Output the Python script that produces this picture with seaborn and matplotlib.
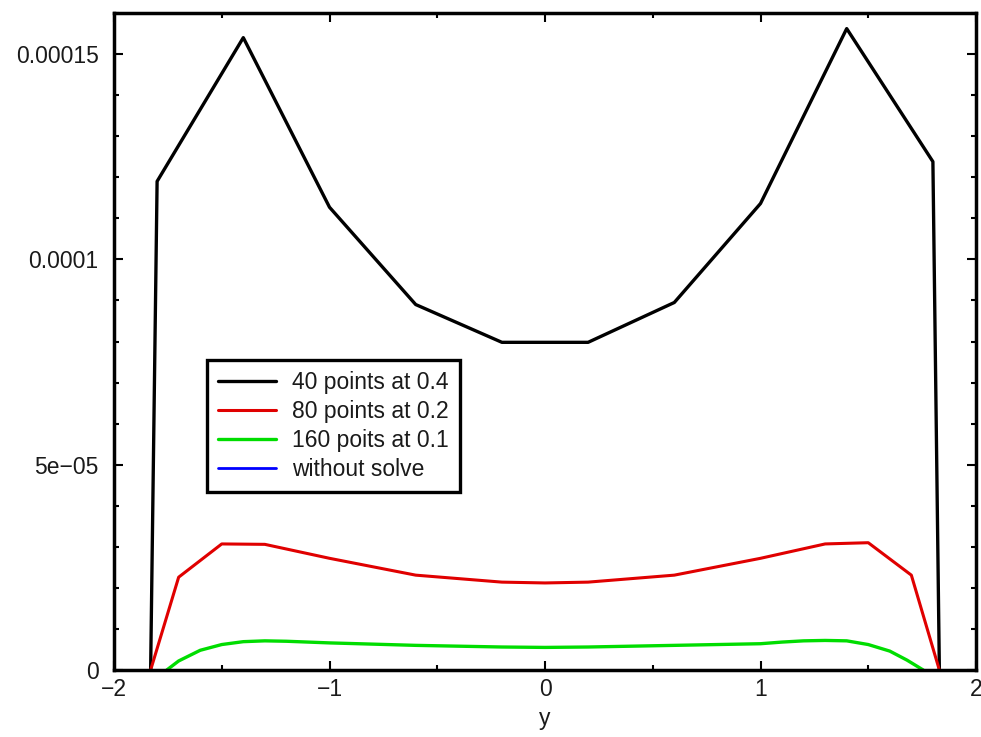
import matplotlib
matplotlib.use("Agg")
import matplotlib.pyplot as plt
from matplotlib.ticker import MultipleLocator
import seaborn as sns
import pandas as pd

# ---- data ----
x_black = [-1.83, -1.8, -1.4, -1.0, -0.6, -0.2, 0.2, 0.6, 1.0, 1.4, 1.8, 1.83]
y_black = [0.0, 1.19e-4, 1.54e-4, 1.127e-4, 8.9e-5, 7.98e-5, 7.98e-5, 8.95e-5, 1.136e-4, 1.562e-4, 1.238e-4, 0.0]

x_red = [-1.83, -1.7, -1.5, -1.3, -1.0, -0.6, -0.2, 0.0, 0.2, 0.6, 1.0, 1.3, 1.5, 1.7, 1.83]
y_red = [0.0, 2.26e-5, 3.07e-5, 3.06e-5, 2.72e-5, 2.31e-5, 2.14e-5, 2.12e-5, 2.14e-5, 2.31e-5, 2.72e-5, 3.07e-5, 3.1e-5, 2.31e-5, 0.0]

x_green = [-1.755, -1.7, -1.6, -1.5, -1.4, -1.3, -1.2, -1.1, -1.0, -0.8, -0.6, -0.4, -0.2, 0.0,
           0.2, 0.4, 0.6, 0.8, 1.0, 1.1, 1.2, 1.3, 1.4, 1.5, 1.6, 1.68, 1.755]
y_green = [0.0, 2.2e-6, 4.8e-6, 6.2e-6, 6.9e-6, 7.1e-6, 7.0e-6, 6.8e-6, 6.6e-6, 6.3e-6, 6.0e-6, 5.8e-6, 5.6e-6, 5.5e-6,
           5.6e-6, 5.8e-6, 6.0e-6, 6.2e-6, 6.4e-6, 6.8e-6, 7.1e-6, 7.2e-6, 7.1e-6, 6.2e-6, 4.6e-6, 2.4e-6, 0.0]

x_blue = []
y_blue = []

labels = ["40 points at 0.4", "80 points at 0.2", "160 poits at 0.1", "without solve"]
colors = ["#000000", "#e00000", "#00dd00", "#0000ff"]

x_ticks = [-2, -1, 0, 1, 2]
y_ticks = [0, 5e-5, 1e-4, 1.5e-4]
y_ticklabels = ["0", "5e\u221205", "0.0001", "0.00015"]
x_ticklabels = ["\u22122", "\u22121", "0", "1", "2"]

# ---- plot ----
sns.set_style("white")
plt.rcParams["font.family"] = ["Liberation Sans", "DejaVu Sans"]

fig = plt.figure(figsize=(9.81, 7.37), dpi=100)
ax = fig.add_axes([114 / 981, 67 / 737, 862 / 981, 657 / 737])

series = [(x_black, y_black), (x_red, y_red), (x_green, y_green)]
widths = [2.4, 2.2, 2.4]
for (xs, ys), lab, col, lw in zip(series, labels[:3], colors[:3], widths):
    df = pd.DataFrame({"x": xs, "y": ys})
    sns.lineplot(data=df, x="x", y="y", ax=ax, color=col, lw=lw, label=lab,
                 sort=False, estimator=None)
ax.plot(x_blue, y_blue, color=colors[3], lw=2.0, label=labels[3])

ax.set_xlim(-2, 2)
ax.set_ylim(0, 1.6e-4)
ax.set_xticks(x_ticks)
ax.set_xticklabels(x_ticklabels)
ax.set_yticks(y_ticks)
ax.set_yticklabels(y_ticklabels)
ax.xaxis.set_minor_locator(MultipleLocator(0.5))
ax.yaxis.set_minor_locator(MultipleLocator(1e-5))
ax.tick_params(which="both", direction="in", top=True, right=True, bottom=True, left=True,
               width=1.5, color="black", labelsize=16.5, labelcolor="#1a1a1a")
ax.tick_params(which="major", length=6.5)
ax.tick_params(which="minor", length=3.5)
ax.tick_params(axis="y", which="major", pad=11)
ax.tick_params(axis="x", which="major", pad=6)
for s in ax.spines.values():
    s.set_linewidth(2.5)
    s.set_color("black")

ax.set_xlabel("y", fontsize=16.5, labelpad=4, color="#1a1a1a")
ax.set_ylabel("")

leg = ax.legend(loc="upper left", bbox_to_anchor=((207 - 114) / 862, (670 - 360) / 657),
                borderaxespad=0, fontsize=16.5, frameon=True, fancybox=False, framealpha=1,
                handlelength=2.5, handletextpad=0.7, labelspacing=0.25, borderpad=0.5)
leg.get_frame().set_edgecolor("black")
leg.get_frame().set_linewidth(2.4)
for t in leg.get_texts():
    t.set_color("#1a1a1a")

fig.savefig("out.png", dpi=100)
